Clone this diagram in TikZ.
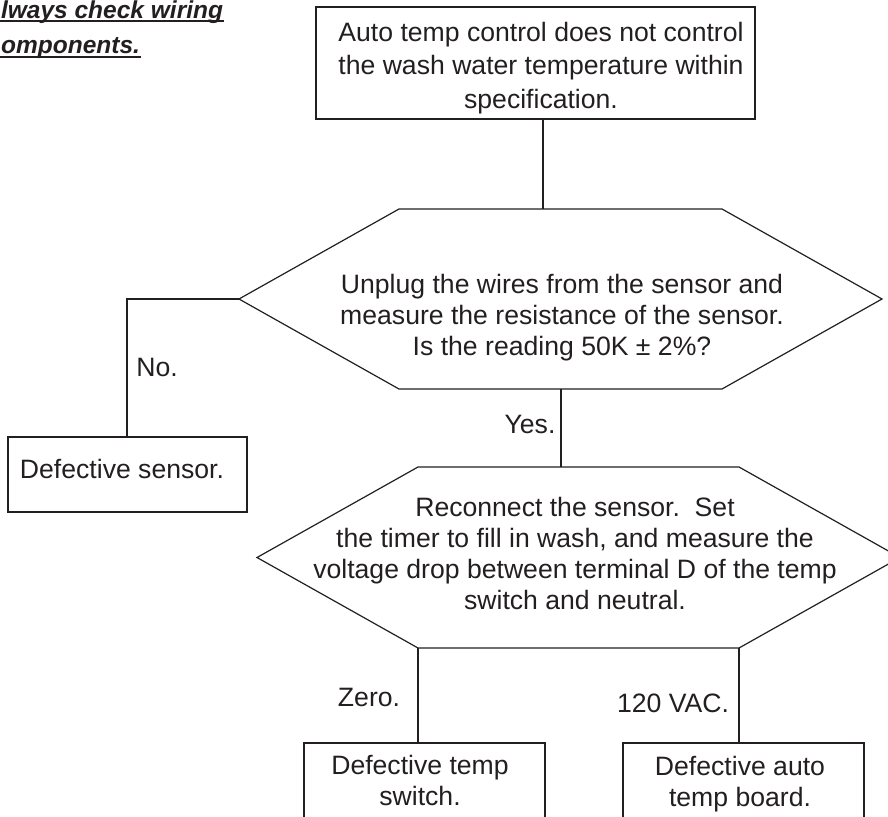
\documentclass[tikz,border=0pt]{standalone}
\usepackage{fontspec}
\setmainfont{Liberation Sans}
\definecolor{ink}{HTML}{231F20}
\begin{document}
\begin{tikzpicture}[x=1pt,y=-1pt,
  line width=1.2pt,
  color=ink,
  txt/.style={font=\fontsize{26.6}{31}\selectfont, text=ink, align=center, inner sep=0pt},
  note/.style={font=\fontsize{24.5}{36}\selectfont\bfseries\itshape, text=ink, inner sep=0pt},
  uline/.style={line width=2pt, draw=ink}]
\useasboundingbox (0,0) rectangle (888,816);
\clip (0,0) rectangle (888,816);

% note at top left
\node[note, anchor=base west] (n1) at (0.5,18.5) {lways check wiring};
\node[note, anchor=base west] (n2) at (0.5,53) {omponents.};
\draw[uline] (0,21.5) -- (n1.base east |- 0,21.5);
\draw[uline] (0,57) -- (n2.base east |- 0,57);

% start box
\draw (316,7) rectangle (755,119);
\coordinate (topb) at (543,119);
\node[txt, font=\fontsize{26.6}{33.5}\selectfont] (start) at (541,67.7)
  {Auto temp control does not control\\the wash water temperature within\\specification.};

% decision 1
\coordinate (d1t) at (543,209);
\coordinate (d1l) at (239,299);
\coordinate (d1b) at (561,389);
\draw (399,209) -- (722,209) -- (882,299) -- (722,389) -- (399,389) -- (d1l) -- cycle;
\node[txt] (q1) at (562,317.2)
  {Unplug the wires from the sensor and\\measure the resistance of the sensor.\\Is the reading 50K ± 2\%?};

% defective sensor
\draw (8,437) rectangle (247,512);
\coordinate (sens) at (127,437);
\node[txt, anchor=base] (ds) at (122,478) {Defective sensor.};

% decision 2
\coordinate (d2t) at (561,467);
\coordinate (d2bl) at (418,648);
\coordinate (d2br) at (739,648);
\draw (418,467) -- (739,467) -- (900,557.5) -- (739,648) -- (418,648) -- (257,557.5) -- cycle;
\node[txt] (q2) at (575,553.9)
  {Reconnect the sensor.\ \ Set\\the timer to fill in wash, and measure the\\voltage drop between terminal D of the temp\\switch and neutral.};

% bottom boxes
\draw (304,743) rectangle (545,840);
\draw (623,743) rectangle (864,840);
\coordinate (swt) at (418,743);
\coordinate (brd) at (739,743);
\node[txt] (dsw) at (420,780.9) {Defective temp\\switch.};
\node[txt] (dbd) at (740,784.2) {Defective auto\\temp board.};

% connectors
\draw (topb) -- (d1t);
\draw (d1l) -- (d1l -| sens) -- (sens);
\draw (d1b) -- (d2t);
\draw (d2bl) -- (swt);
\draw (d2br) -- (brd);

% labels
\node[txt, anchor=base] (no) at (157,376) {No.};
\node[txt, anchor=base] (yes) at (530,433) {Yes.};
\node[txt, anchor=base] (zero) at (369,706) {Zero.};
\node[txt, anchor=base] (vac) at (673,712) {120 VAC.};
\end{tikzpicture}
\end{document}
